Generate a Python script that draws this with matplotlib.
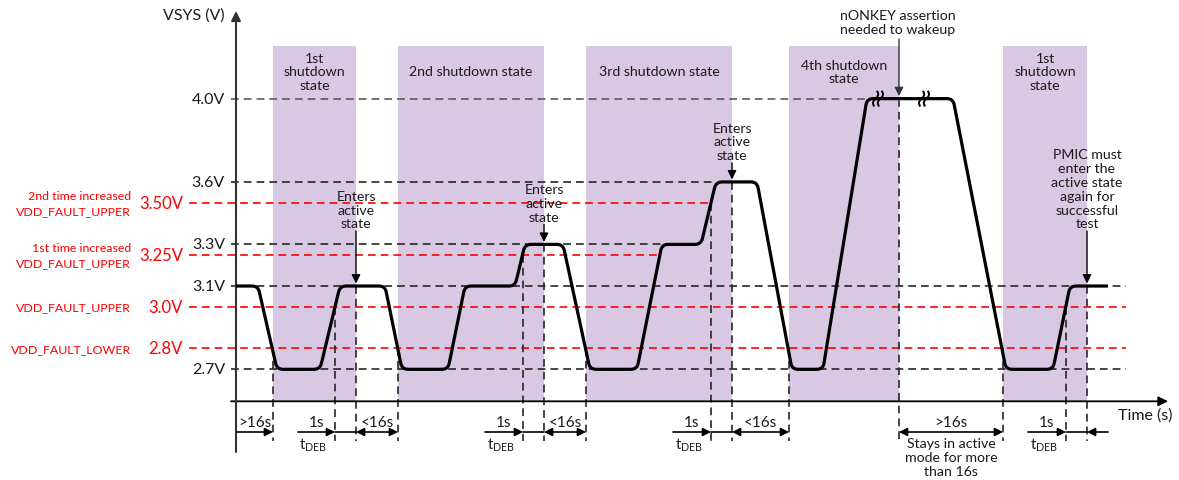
import numpy as np
import matplotlib
matplotlib.use("Agg")
import matplotlib.pyplot as plt
from matplotlib.path import Path
from matplotlib.patches import PathPatch, Rectangle
from matplotlib.lines import Line2D

plt.rcParams['font.family'] = ['Lato', 'DejaVu Sans']
plt.rcParams['lines.scale_dashes'] = False
plt.rcParams['mathtext.default'] = 'regular'

# ---------------- data ----------------
# VSYS waveform breakpoints (time in arbitrary units, voltage in V)
wave_t = [236, 258, 277, 320, 340, 385, 402, 448, 465, 515, 525, 563, 590, 637,
          662, 701, 716, 757, 792, 823, 867, 953, 1006, 1053, 1070, 1108]
wave_v = [3.1, 3.1, 2.7, 2.7, 3.1, 3.1, 2.7, 2.7, 3.1, 3.1, 3.3, 3.3, 2.7, 2.7,
          3.3, 3.3, 3.6, 3.6, 2.7, 2.7, 4.0, 4.0, 2.7, 2.7, 3.1, 3.1]

black_levels = [4.0, 3.6, 3.3, 3.1, 2.7]
black_labels = ['4.0V', '3.6V', '3.3V', '3.1V', '2.7V']
black_level_end = [867, 716, 701, 1126, 1126]

red_levels = [3.5, 3.25, 3.0, 2.8]
red_values = ['3.50V', '3.25V', '3.0V', '2.8V']
red_names = ['2nd time increased\nVDD_FAULT_UPPER', '1st time increased\nVDD_FAULT_UPPER',
             'VDD_FAULT_UPPER', 'VDD_FAULT_LOWER']
red_level_end = [711, 661, 1126, 1126]

shutdown_start = [273, 398, 586, 789, 1003]
shutdown_end = [356, 544, 732, 899, 1087]
shutdown_names = ['1st\nshutdown\nstate', '2nd shutdown state', '3rd shutdown state',
                  '4th shutdown\nstate', '1st\nshutdown\nstate']

# event markers: time, voltage where the vertical dashed line starts
marker_t = [273, 335, 356, 398, 523, 544, 586, 711, 732, 789, 899, 1003, 1066, 1087]
marker_v = [2.8, 3.0, 3.1, 2.8, 3.25, 3.3, 2.8, 3.5, 3.6, 2.8, 4.0, 2.8, 3.0, 3.1]

active_t = [356, 544, 732, 1087]
active_v = [3.1, 3.3, 3.6, 3.1]
active_text = ['Enters\nactive\nstate', 'Enters\nactive\nstate', 'Enters\nactive\nstate',
               'PMIC must\nenter the\nactive state\nagain for\nsuccessful\ntest']

# interval annotations below the time axis
iv_start = [236, 298, 335, 356, 485, 523, 544, 673, 711, 732, 899, 1028, 1066, 1108]
iv_end = [273, 335, 356, 398, 523, 544, 586, 711, 732, 789, 1003, 1066, 1087, 1087]
iv_label = ['>16s', '1s', '', '<16s', '1s', '', '<16s', '1s', '', '<16s', '>16s', '1s', '', '']
iv_style = ['-|>', '-|>', '-', '<|-|>', '-|>', '-', '<|-|>', '-|>', '-', '<|-|>', '<|-|>',
            '-|>', '-', '-|>']

break_t = [878, 924]

# ---------------- layout helpers ----------------
W, H = 1179, 481
PX_PER_V = 208.2
Y0PX = 370.3  # pixel row of 2.7 V


def Y(px):
    return 2.7 - (px - Y0PX) / PX_PER_V


fig = plt.figure(figsize=(W / 100, H / 100), dpi=100)
ax = fig.add_axes([0, 0, 1, 1])
ax.set_xlim(0, W)
ax.set_ylim(Y(H), Y(0))
ax.axis('off')

PURPLE = '#D9C8E3'
RED = '#FF0000'
DARK = '#262626'
TXT = '#1a1a1a'
FS = 10.2
LS = 1.18
DASH = (5.6, 3.6)

# shutdown bands
for s, e, name in zip(shutdown_start, shutdown_end, shutdown_names):
    ax.add_patch(Rectangle((s, Y(402.3)), e - s, Y(47) - Y(402.3), fc=PURPLE, ec='none', zorder=0))
    ax.text((s + e) / 2, Y(72.5), name, ha='center', va='center', fontsize=FS,
            linespacing=LS, color=TXT, zorder=5)

# horizontal reference lines
for lv, lab, end in zip(black_levels, black_labels, black_level_end):
    col = '#5a5a5a' if lv == 4.0 else DARK
    ax.add_line(Line2D([231, end], [lv, lv], color=col, lw=1.2, dashes=DASH, zorder=2))
    ax.text(225, lv, lab, ha='right', va='center', fontsize=11.5, color=TXT)

for lv, val, name, end in zip(red_levels, red_values, red_names, red_level_end):
    ax.add_line(Line2D([189, end], [lv, lv], color=RED, lw=1.2, dashes=DASH, zorder=2))
    ax.text(183, lv, val, ha='right', va='center', fontsize=12, color=RED)
    ax.text(131, lv, name, ha='right', va='center', fontsize=8.9, color=RED,
            multialignment='right', linespacing=1.45)

# vertical event markers
for t, v in zip(marker_t, marker_v):
    ax.add_line(Line2D([t, t], [v, Y(442)], color=DARK, lw=1.2, dashes=DASH, zorder=2))

# axes
ax.annotate('', xy=(1168, Y(402.3)), xytext=(231, Y(402.3)),
            arrowprops=dict(arrowstyle='-|>', color='black', lw=1.3, mutation_scale=14,
                            shrinkA=0, shrinkB=0), zorder=3)
ax.annotate('', xy=(236, Y(12)), xytext=(236, Y(453)),
            arrowprops=dict(arrowstyle='-|>', color='#333333', lw=1.5, mutation_scale=14,
                            shrinkA=0, shrinkB=0), zorder=3)
ax.text(225, Y(16), 'VSYS (V)', ha='right', va='center', fontsize=11.5, color=TXT)
ax.text(1118, Y(416), 'Time (s)', ha='left', va='center', fontsize=11.5, color=TXT)

# waveform with rounded corners
pts = ax.transData.transform(np.column_stack([wave_t, wave_v]))
r = 6.0
verts = [pts[0]]
codes = [Path.MOVETO]
for i in range(1, len(pts) - 1):
    p0, p1, p2 = pts[i - 1], pts[i], pts[i + 1]
    d1 = p1 - p0
    d2 = p2 - p1
    l1 = np.hypot(*d1)
    l2 = np.hypot(*d2)
    rr = min(r, l1 / 2, l2 / 2)
    verts += [p1 - d1 / l1 * rr, p1, p1 + d2 / l2 * rr]
    codes += [Path.LINETO, Path.CURVE3, Path.CURVE3]
verts.append(pts[-1])
codes.append(Path.LINETO)
path = Path(ax.transData.inverted().transform(np.array(verts)), codes)
ax.add_patch(PathPatch(path, fill=False, lw=2.3, ec='black', capstyle='butt',
                       joinstyle='round', zorder=6))

# break marks on the 4.0 V plateau
for bt in break_t:
    cx, cy = ax.transData.transform((bt, 4.0))
    tt = np.linspace(-1, 1, 24)
    for off in (-2.4, 2.4):
        xs = cx + off + 1.8 * tt + 1.6 * np.sin(np.pi * tt)
        ys = cy + 7.0 * tt
        dat = ax.transData.inverted().transform(np.column_stack([xs, ys]))
        ax.add_line(Line2D(dat[:, 0], dat[:, 1], color='black', lw=1.4, zorder=7))

# "Enters active state" annotations
arrow_len_px = [52, 17, 16, 52]
for t, v, txt, L in zip(active_t, active_v, active_text, arrow_len_px):
    top = Y(Y0PX - (v - 2.7) * PX_PER_V - 3 - L)
    ax.annotate('', xy=(t, v + 0.012), xytext=(t, top),
                arrowprops=dict(arrowstyle='-|>', color='black', lw=1.0, mutation_scale=13,
                                shrinkA=0, shrinkB=0), zorder=7)
    ax.text(t, top + 0.008, txt, ha='center', va='bottom', fontsize=FS, linespacing=LS,
            color=TXT, zorder=7)

# nONKEY annotation
ax.annotate('', xy=(899, 4.0 + 0.012), xytext=(899, Y(40)),
            arrowprops=dict(arrowstyle='-|>', color='#333333', lw=1.0, mutation_scale=13,
                            shrinkA=0, shrinkB=0), zorder=7)
ax.text(898, Y(23), 'nONKEY assertion\nneeded to wakeup', ha='center', va='center',
        fontsize=FS, linespacing=LS, color=TXT)

# interval arrows below the time axis
for s, e, lab, st in zip(iv_start, iv_end, iv_label, iv_style):
    ax.annotate('', xy=(e, Y(433)), xytext=(s, Y(433)),
                arrowprops=dict(arrowstyle=st, color='black', lw=1.2, mutation_scale=12,
                                shrinkA=0, shrinkB=0), zorder=4)
    if lab:
        ax.text((s + e) / 2, Y(423), lab, ha='center', va='center', fontsize=FS + 0.8,
                color=TXT)
    if lab == '1s':
        ax.text((s + e) / 2 - 3, Y(445), r'$\mathregular{t_{DEB}}$', ha='center', va='center',
                fontsize=FS + 0.8, color=TXT)

ax.text(951, Y(458), 'Stays in active\nmode for more\nthan 16s', ha='center', va='center',
        fontsize=FS, linespacing=LS, color=TXT)

fig.savefig('out.png', dpi=100)
